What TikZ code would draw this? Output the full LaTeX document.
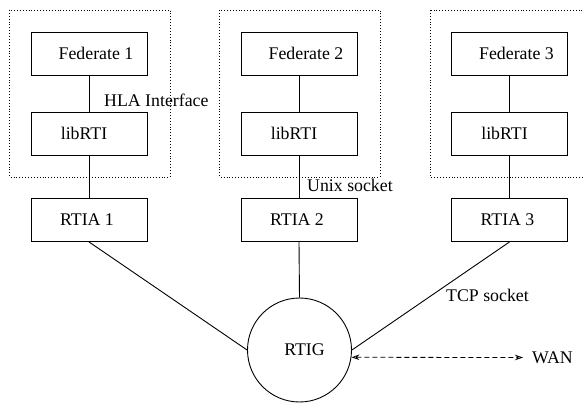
\documentclass[tikz,border=0pt]{standalone}
\usepackage{fontspec}
\setmainfont{Liberation Serif}
\usetikzlibrary{arrows.meta}
\newcommand{\shr}[1]{\hspace*{#1pt}}
\begin{document}
\begin{tikzpicture}[x=1pt,y=-1pt,
  every node/.style={font=\fontsize{17.8}{20}\selectfont},
  compbox/.style={draw,line width=0.9pt,minimum width=116pt,minimum height=43pt,inner sep=0pt},
  hostbox/.style={draw,dotted,line width=0.9pt},
  conn/.style={line width=0.9pt},
  lbl/.style={inner sep=0pt,anchor=west}]
\useasboundingbox (0,0) rectangle (584,403);
\begin{scope}
\clip (0,0) rectangle (584,403);
\draw[hostbox] (9.5,10) rectangle (170,177);
\draw[hostbox] (219.5,10) rectangle (380,177);
\draw[hostbox] (430,10) rectangle (590,177);
\end{scope}
% column 1
\node[compbox] (fed1) at (89,53.5) {\shr{14}Federate 1};
\node[compbox] (lib1) at (89,133.5) {libRTI\shr{10}};
\node[compbox] (rtia1) at (89,220) {RTIA 1\shr{4}};
% column 2
\node[compbox] (fed2) at (299,53.5) {\shr{14}Federate 2};
\node[compbox] (lib2) at (299,133.5) {libRTI\shr{10}};
\node[compbox] (rtia2) at (299,220) {RTIA 2\shr{4}};
% column 3
\node[compbox] (fed3) at (509.5,53.5) {\shr{14}Federate 3};
\node[compbox] (lib3) at (509.5,133.5) {libRTI\shr{10}};
\node[compbox] (rtia3) at (509.5,220) {RTIA 3\shr{4}};
% RTIG
\node[draw,circle,line width=0.9pt,minimum size=104pt,inner sep=0pt] (rtig) at (299.5,350) {\raisebox{-3pt}{\shr{10}RTIG}};
\node[lbl] (wan) at (532,357.5) {WAN};
% labels
\node[lbl] (hla) at (104,100) {HLA Interface};
\node[lbl] (unix) at (307,185) {Unix socket};
\node[lbl] (tcp) at (446,295) {TCP socket};
% connectors
\draw[conn] (fed1) -- (lib1);
\draw[conn] (lib1) -- (rtia1);
\draw[conn] (fed2) -- (lib2);
\draw[conn] (lib2) -- (rtia2);
\draw[conn] (fed3) -- (lib3);
\draw[conn] (lib3) -- (rtia3);
\draw[conn] (rtia1.south) -- (rtig.west);
\draw[conn] (rtia2.south) -- (rtig.north);
\draw[conn] (rtia3.south) -- (rtig.east);
\draw[line width=0.8pt,dash pattern=on 5pt off 3pt,{Stealth[open,length=8pt,width=5.5pt]}-{Stealth[open,length=8pt,width=5.5pt]}]
  (rtig.-8) -- ([xshift=-9pt]wan.west);
\end{tikzpicture}
\end{document}
